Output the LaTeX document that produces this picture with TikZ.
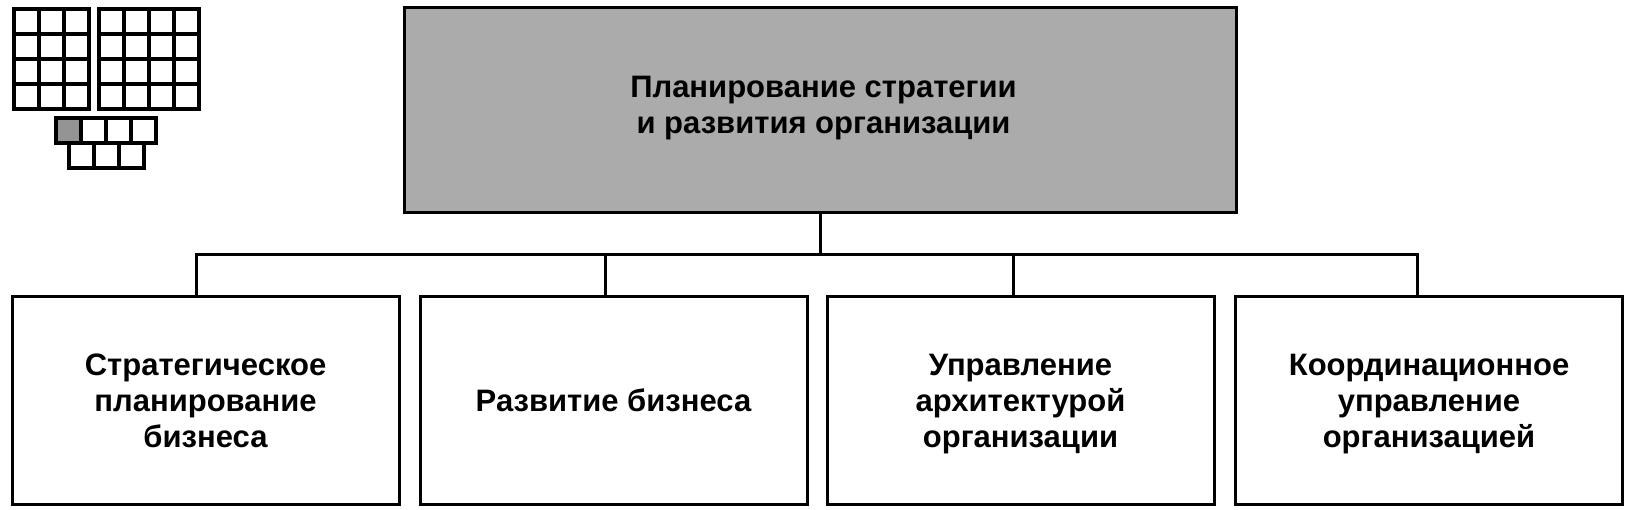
\documentclass[tikz,border=0pt]{standalone}
\usepackage{fontspec}
\setmainfont{Liberation Sans}
\usepackage{tikz}

\newcommand{\lowstrut}{\rule{0pt}{33pt}}

\tikzset{
    orgbox/.style={draw=black, line width=3pt, align=center, inner sep=0pt, minimum height=207pt, minimum width=387pt,
        font=\fontsize{31}{36}\selectfont\bfseries},
    topbox/.style={orgbox, fill=black!33, minimum width=832pt, minimum height=205pt},
    wire/.style={line width=3pt},
    cell/.style={draw=black, line width=3.6pt, fill=white},
    darkcell/.style={cell, fill=black!42}
}

\begin{document}
\begin{tikzpicture}[x=1pt,y=-1pt]
        \useasboundingbox (0, 0) rectangle (1630, 510);

        \node [topbox] (plan) at (820.5, 110.5) {\hspace{6pt}Планирование стратегии\\\hspace{6pt}и развития организации\strut};

        \node [orgbox] (business) at (205.5, 400.5) {\lowstrut Стратегическое\\планирование\\бизнеса\strut};
        \node [orgbox] (growth) at (613.5, 400.5) {\lowstrut Развитие бизнеса\strut};
        \node [orgbox] (architecture) at (1020.5, 400.5) {\lowstrut Управление\\архитектурой\\организации\strut};
        \node [orgbox] (coordination) at (1429, 400.5) {\lowstrut Координационное\\управление\\организацией\strut};

        \coordinate (busa) at (196.5, 255);
        \coordinate (busb) at (605.5, 255);
        \coordinate (busc) at (1013.5, 255);
        \coordinate (busd) at (1417, 255);

        \draw [wire] (plan.south) -- (plan.south |- busa);
        \draw [wire] (busa |- business.north) -- (busa) -- (busd) -- (busd |- coordination.north);
        \draw [wire] (busb) -- (busb |- growth.north);
        \draw [wire] (busc) -- (busc |- architecture.north);

        \foreach \x in {0, 1, 2}
            \foreach \y in {0, 1, 2, 3}
                \draw [cell] (14 + 25*\x, 9 + 25*\y) rectangle +(25, 25);
        \foreach \x in {0, 1, 2, 3}
            \foreach \y in {0, 1, 2, 3}
                \draw [cell] (99 + 25*\x, 9 + 25*\y) rectangle +(25, 25);
        \foreach \x in {1, 2, 3}
            \draw [cell] (56 + 25*\x, 118) rectangle +(25, 25);
        \draw [darkcell] (56, 118) rectangle +(25, 25);
        \foreach \x in {0, 1, 2}
            \draw [cell] (69 + 25*\x, 143) rectangle +(25, 25);
    \end{tikzpicture}
\end{document}
